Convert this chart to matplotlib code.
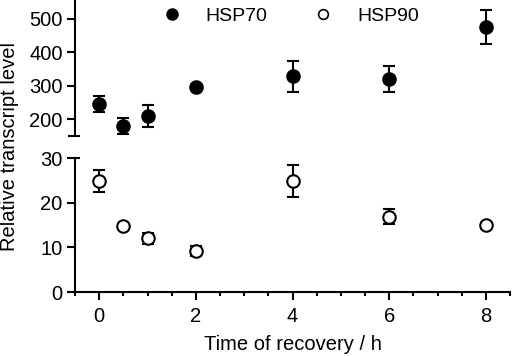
"""
Relative transcript levels of HSP70 and HSP90 during recovery,
drawn on a broken y axis.
"""

import matplotlib
matplotlib.use("Agg")
import matplotlib.pyplot as plt
from matplotlib.ticker import MultipleLocator
from matplotlib.lines import Line2D

plt.rcParams["font.family"] = ["Liberation Sans", "DejaVu Sans"]
plt.rcParams["font.size"] = 14.5

# ---------------------------------------------------------------------
# Data
# ---------------------------------------------------------------------
TIME = [0, 0.5, 1, 2, 4, 6, 8]

HSP70 = [245, 180, 210, 295, 328, 319, 476]
HSP70_ERR = [24, 24, 33, 5, 47, 39, 50]

HSP90 = [24.8, 14.7, 12.0, 9.2, 24.9, 16.9, 15.0]
HSP90_ERR = [2.5, 0.4, 1.2, 1.1, 3.6, 1.6, 0.3]

TOP_TICKS = [200, 300, 400, 500]
BOTTOM_TICKS = [0, 10, 20, 30]
X_TICKS = [0, 2, 4, 6, 8]

LW = 1.5
MS = 9


def style_axis(ax):
    ax.spines["right"].set_visible(False)
    ax.spines["top"].set_visible(False)
    ax.spines["left"].set_linewidth(LW)
    ax.spines["bottom"].set_linewidth(LW)
    ax.tick_params(which="major", length=6, width=LW, pad=3)
    ax.tick_params(which="minor", length=3, width=LW)


def main():
    fig = plt.figure(figsize=(5.12, 3.56), dpi=100)
    left, width = 75 / 512, 435 / 512
    ax_top = fig.add_axes([left, 220 / 356, width, 136 / 356])
    ax_bot = fig.add_axes([left, 64 / 356, width, 134 / 356])

    err_kw = dict(fmt="o", ms=MS, mec="black", mew=LW, ecolor="black",
                  elinewidth=LW, capsize=4.5, capthick=LW, clip_on=False)

    ax_top.errorbar(TIME, HSP70, yerr=HSP70_ERR, mfc="black", **err_kw)
    ax_bot.errorbar(TIME, HSP90, yerr=HSP90_ERR, mfc="white", **err_kw)

    for ax in (ax_top, ax_bot):
        style_axis(ax)
        ax.set_xlim(-0.5, 8.5)

    ax_top.set_ylim(150, 556)
    ax_top.set_yticks(TOP_TICKS)
    ax_top.spines["bottom"].set_visible(False)
    ax_top.tick_params(axis="x", which="both", bottom=False, labelbottom=False)
    # short mark at the break on the top segment
    ax_top.plot([-0.65, -0.4], [150, 150], color="black", lw=LW,
                clip_on=False, solid_capstyle="butt")

    ax_bot.set_ylim(0, 30)
    ax_bot.set_yticks(BOTTOM_TICKS)
    ax_bot.set_xticks(X_TICKS)
    ax_bot.xaxis.set_minor_locator(MultipleLocator(0.5))
    ax_bot.tick_params(axis="x", which="major", pad=5)
    ax_bot.plot([-0.5, -0.4], [30, 30], color="black", lw=LW,
                clip_on=False, solid_capstyle="butt")
    ax_bot.set_xlabel("Time of recovery / h", labelpad=6)

    fig.text(10 / 512, 0.588, "Relative transcript level", rotation=90,
             ha="center", va="center")

    handles = [
        Line2D([], [], ls="none", marker="o", ms=MS - 1.5, mfc="black",
               mec="black", mew=LW),
        Line2D([], [], ls="none", marker="o", ms=MS - 2, mfc="white",
               mec="black", mew=1.2),
    ]
    fig.legend(handles, ["HSP70", "HSP90"], ncol=2, frameon=False,
               fontsize=14, loc="center left",
               bbox_to_anchor=(163 / 512, 1 - 16 / 356),
               borderpad=0, borderaxespad=0, handlelength=0.9,
               handletextpad=1.3, columnspacing=2.4)

    fig.savefig("out.png", dpi=100)


if __name__ == "__main__":
    main()
